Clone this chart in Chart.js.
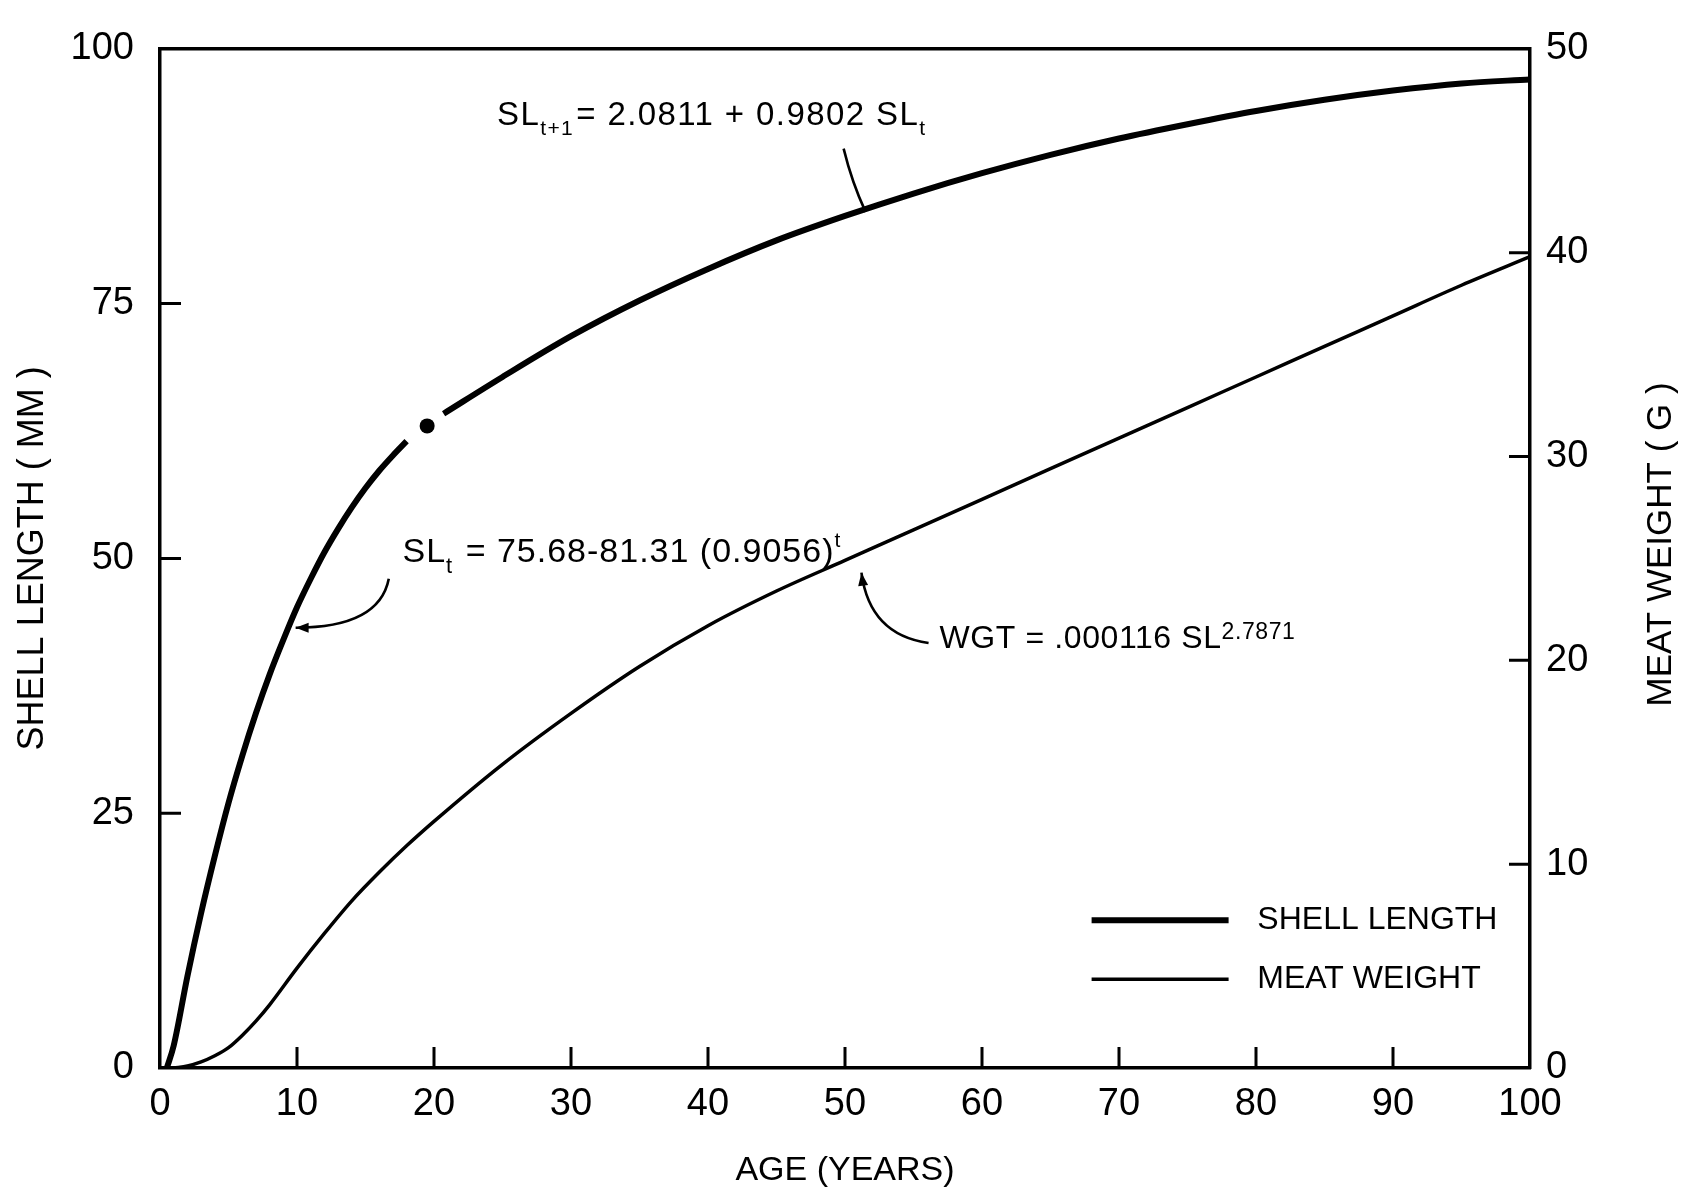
<!DOCTYPE html>
<html>
<head>
<meta charset="utf-8">
<script src="https://cdn.jsdelivr.net/npm/chart.js@4"></script>
<style>
  html, body { margin: 0; padding: 0; background: #fff; }
  #wrap { width: 1683px; height: 1195px; position: relative; }
</style>
</head>
<body>
<div id="wrap"><canvas id="c" width="1683" height="1195"></canvas></div>
<script>
// ---------------- DATA ----------------
const xTicks = [0, 10, 20, 30, 40, 50, 60, 70, 80, 90, 100];
const leftTicks = [0, 25, 50, 75, 100];
const rightTicks = [0, 10, 20, 30, 40, 50];

// Shell length (mm) vs age (years); null = gap in the drawn curve around the marked point
const shellAges = [0.5, 1, 2, 3, 4, 5, 6, 7, 8, 9, 10, 11, 12, 13, 14, 15, 16, 17, 18, 19.5, 20.7,
                   25, 30, 35, 40, 45, 50, 55, 60, 65, 70, 75, 80, 85, 90, 95, 100];
const shellLength = [0, 2.2, 9.0, 15.2, 20.8, 26.0, 30.6, 34.8, 38.6, 42.0, 45.2, 48.0, 50.6, 52.9, 55.0, 56.9, 58.6, 60.1, 61.5, null, 64.2,
                     67.8, 71.8, 75.3, 78.4, 81.2, 83.6, 85.8, 87.8, 89.6, 91.2, 92.6, 93.9, 95.0, 95.9, 96.6, 97.0];

// Marked transition point on the shell-length curve
const dotAge = [19.5];
const dotLength = [63.0];

// Meat weight (g) vs age (years)
const weightAges = [1, 2, 3, 4, 5, 6, 7, 8, 10, 12, 14, 16, 18, 20,
                    25, 30, 35, 40, 45, 50, 55, 60, 65, 70, 75, 80, 85, 90, 95, 100];
const meatWeight = [0, 0.1, 0.3, 0.6, 1.0, 1.6, 2.3, 3.1, 4.9, 6.6, 8.2, 9.6, 10.9, 12.1,
                    14.9, 17.4, 19.7, 21.7, 23.4, 24.9, 26.4, 27.9, 29.4, 30.9, 32.4, 33.9, 35.4, 36.9, 38.4, 39.8];

const seriesLabels = ['SHELL LENGTH', 'MEAT WEIGHT'];

// ---------------- STYLE / LAYOUT ----------------
const FONT = "'Liberation Sans', Arial, sans-serif";
const INK = '#000';

// annotation anchors expressed in axis units (age, shell length)
const annotations = [
  { at: [24.6, 92.5], size: 33, spacing: 1.4, parts: [
      { t: 'SL' }, { t: 't+1', sub: true }, { t: '= 2.0811 + 0.9802 SL' }, { t: 't', sub: true } ],
    arrow: { from: [49.9, 90.2], ctrl: [50.5, 86.9], to: [51.5, 84.0], head: false } },
  { at: [17.7, 49.6], size: 34, spacing: 1.0, parts: [
      { t: 'SL' }, { t: 't', sub: true }, { t: ' = 75.68-81.31 (0.9056)' }, { t: 't', sup: true } ],
    arrow: { from: [16.7, 48.0], ctrl: [16.0, 43.2], to: [9.9, 43.2], head: true } },
  { at: [56.9, 41.2], size: 32, spacing: 0.6, parts: [
      { t: 'WGT = .000116 SL' }, { t: '2.7871', sup: true, small: 0.72, rise: 9 } ],
    arrow: { from: [56.1, 41.7], ctrl: [51.8, 42.5], to: [51.2, 48.6], head: true } }
];

const legendSpec = { lineFrom: 68.0, lineTo: 78.0, textAt: 80.1, rows: [14.5, 8.7], size: 32 };

function pt(chart, p) {
  return [chart.scales.x.getPixelForValue(p[0]), chart.scales.y.getPixelForValue(p[1])];
}

function drawRich(ctx, x, y, size, spacing, parts) {
  let cx = x;
  ctx.textBaseline = 'alphabetic';
  ctx.textAlign = 'left';
  ctx.letterSpacing = spacing + 'px';
  for (const p of parts) {
    let s = size, dy = 0;
    if (p.sub) { s = Math.round(size * 0.64); dy = size * 0.3; }
    if (p.sup) { s = Math.round(size * (p.small || 0.62)); dy = -(p.rise != null ? p.rise : size * 0.45); }
    ctx.font = s + 'px ' + FONT;
    ctx.fillText(p.t, cx, y + dy);
    cx += ctx.measureText(p.t).width + (p.sub ? 2 : 0);
  }
  ctx.letterSpacing = '0px';
}

const decorPlugin = {
  id: 'decor',
  afterDraw(chart) {
    const { ctx, chartArea: a, scales } = chart;
    ctx.save();
    ctx.strokeStyle = INK;
    ctx.fillStyle = INK;

    // top frame line
    ctx.lineWidth = 3.5;
    ctx.beginPath();
    ctx.moveTo(a.left, a.top);
    ctx.lineTo(a.right, a.top);
    ctx.stroke();

    // inward tick marks
    const TL = 21;
    ctx.lineWidth = 3;
    ctx.beginPath();
    scales.x.ticks.forEach(t => {
      if (t.value <= scales.x.min || t.value >= scales.x.max) return;
      const px = scales.x.getPixelForValue(t.value);
      ctx.moveTo(px, a.bottom); ctx.lineTo(px, a.bottom - TL);
    });
    scales.y.ticks.forEach(t => {
      if (t.value <= scales.y.min || t.value >= scales.y.max) return;
      const py = scales.y.getPixelForValue(t.value);
      ctx.moveTo(a.left, py); ctx.lineTo(a.left + TL, py);
    });
    scales.y2.ticks.forEach(t => {
      if (t.value <= scales.y2.min || t.value >= scales.y2.max) return;
      const py = scales.y2.getPixelForValue(t.value);
      ctx.moveTo(a.right, py); ctx.lineTo(a.right - TL, py);
    });
    ctx.stroke();

    // right axis title (reads bottom-to-top)
    ctx.save();
    ctx.translate(1661, (a.top + a.bottom) / 2 - 14);
    ctx.rotate(-Math.PI / 2);
    ctx.font = '35px ' + FONT;
    ctx.textAlign = 'center';
    ctx.textBaseline = 'middle';
    ctx.fillText('MEAT WEIGHT ( G )', 0, 0);
    ctx.restore();

    // equations + arrows
    annotations.forEach(an => {
      const [tx, ty] = pt(chart, an.at);
      drawRich(ctx, tx, ty, an.size, an.spacing, an.parts);
      const p0 = pt(chart, an.arrow.from), c = pt(chart, an.arrow.ctrl), p1 = pt(chart, an.arrow.to);
      ctx.lineWidth = 2.6;
      ctx.beginPath();
      ctx.moveTo(p0[0], p0[1]);
      ctx.quadraticCurveTo(c[0], c[1], p1[0], p1[1]);
      ctx.stroke();
      if (an.arrow.head) {
        const ang = Math.atan2(p1[1] - c[1], p1[0] - c[0]);
        const L = 13, W = 5;
        ctx.beginPath();
        ctx.moveTo(p1[0], p1[1]);
        ctx.lineTo(p1[0] - L * Math.cos(ang) + W * Math.sin(ang), p1[1] - L * Math.sin(ang) - W * Math.cos(ang));
        ctx.lineTo(p1[0] - L * Math.cos(ang) - W * Math.sin(ang), p1[1] - L * Math.sin(ang) + W * Math.cos(ang));
        ctx.closePath();
        ctx.fill();
      }
    });

    // legend (inside plot, lower right)
    [0, 1].forEach(i => {
      const ds = chart.data.datasets[i];
      const y = chart.scales.y.getPixelForValue(legendSpec.rows[i]);
      const x0 = chart.scales.x.getPixelForValue(legendSpec.lineFrom);
      const x1 = chart.scales.x.getPixelForValue(legendSpec.lineTo);
      const xt = chart.scales.x.getPixelForValue(legendSpec.textAt);
      ctx.lineWidth = ds.borderWidth;
      ctx.beginPath(); ctx.moveTo(x0, y); ctx.lineTo(x1, y); ctx.stroke();
      ctx.font = legendSpec.size + 'px ' + FONT;
      ctx.textAlign = 'left';
      ctx.textBaseline = 'middle';
      ctx.fillText(ds.label, xt, y);
    });
    ctx.restore();
  }
};

const toPoints = (xs, ys) => xs.map((v, i) => ({ x: v, y: ys[i] }));

new Chart(document.getElementById('c'), {
  type: 'line',
  data: {
    datasets: [
      { label: seriesLabels[0], data: toPoints(shellAges, shellLength), yAxisID: 'y',
        borderColor: INK, borderWidth: 6, pointRadius: 0, spanGaps: false,
        cubicInterpolationMode: 'monotone', borderCapStyle: 'butt', fill: false },
      { label: seriesLabels[1], data: toPoints(weightAges, meatWeight), yAxisID: 'y2',
        borderColor: INK, borderWidth: 3.5, pointRadius: 0,
        cubicInterpolationMode: 'monotone', fill: false },
      { label: 'marker', data: toPoints(dotAge, dotLength), yAxisID: 'y', showLine: false,
        pointRadius: 7.5, pointBackgroundColor: INK, pointBorderColor: INK, borderWidth: 0 }
    ]
  },
  options: {
    responsive: false,
    animation: false,
    devicePixelRatio: 1,
    layout: { padding: { top: 38, left: 0, right: 0, bottom: 0 } },
    plugins: { legend: { display: false }, tooltip: { enabled: false } },
    scales: {
      x: {
        type: 'linear', position: 'bottom', min: 0, max: 100,
        afterBuildTicks: s => { s.ticks = xTicks.map(v => ({ value: v })); },
        afterFit: s => { s.height = 127; },
        grid: { display: false, drawTicks: false },
        border: { display: true, color: INK, width: 3.5 },
        ticks: { color: INK, font: { family: FONT, size: 38 }, padding: 14, maxRotation: 0 },
        title: { display: true, text: 'AGE (YEARS)', color: INK, font: { family: FONT, size: 34 }, padding: { top: 0, bottom: 4 } }
      },
      y: {
        type: 'linear', position: 'left', min: 0, max: 100,
        afterBuildTicks: s => { s.ticks = leftTicks.map(v => ({ value: v })); },
        afterFit: s => { s.width = 160; },
        grid: { display: false, drawTicks: false },
        border: { display: true, color: INK, width: 3.5 },
        ticks: { color: INK, font: { family: FONT, size: 38 }, padding: 26 },
        title: { display: true, text: 'SHELL LENGTH ( MM )', color: INK, font: { family: FONT, size: 36 }, padding: { top: 11, bottom: 0 } }
      },
      y2: {
        type: 'linear', position: 'right', min: 0, max: 50,
        afterBuildTicks: s => { s.ticks = rightTicks.map(v => ({ value: v })); },
        afterFit: s => { s.width = 153; },
        grid: { display: false, drawTicks: false },
        border: { display: true, color: INK, width: 3.5 },
        ticks: { color: INK, font: { family: FONT, size: 38 }, padding: 16 },
        title: { display: false }
      }
    }
  },
  plugins: [decorPlugin]
});
</script>
</body>
</html>
